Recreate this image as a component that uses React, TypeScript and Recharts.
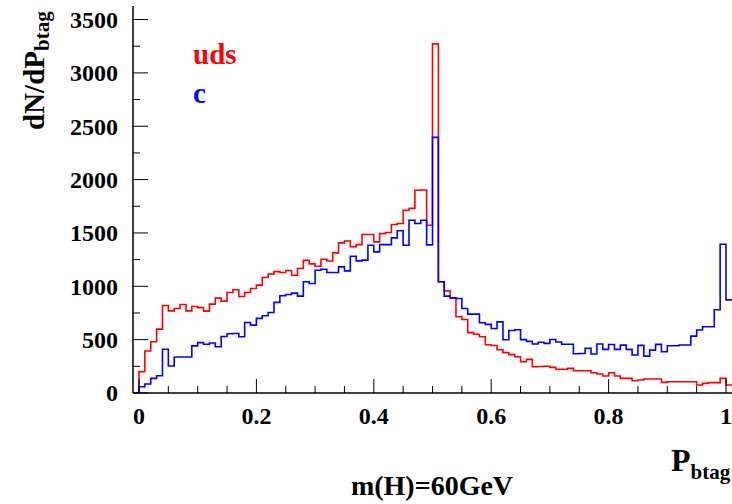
import React from 'react';
import { LineChart, Line, XAxis, YAxis } from 'recharts';

// bin lower edges: -0.01 .. 1.00 (width 0.01), last entry closes the final bin
const binEdges = Array.from({ length: 103 }, (_, i) => Math.round((i - 1)) / 100);

// uds (red), one value per bin starting at -0.01
const udsCounts = [
  0,
  200, 393, 480, 599, 820, 770, 792, 830, 770, 810,
  800, 767, 833, 889, 861, 942, 968, 905, 942, 980,
  1011, 1083, 1114, 1138, 1130, 1148, 1104, 1167, 1243, 1210,
  1188, 1254, 1237, 1313, 1407, 1424, 1372, 1391, 1485, 1485,
  1416, 1494, 1504, 1579, 1588, 1712, 1730, 1900, 1903, 1572,
  3272, 1042, 957, 889, 714, 689, 566, 550, 527, 452,
  445, 405, 378, 360, 340, 293, 315, 246, 248, 251,
  240, 222, 222, 231, 209, 209, 209, 190, 178, 159,
  190, 159, 137, 137, 115, 122, 131, 131, 131, 100,
  106, 106, 106, 106, 106, 75, 90, 97, 97, 137,
  75,
];

// c (blue)
const cCounts = [
  0,
  59, 84, 137, 162, 410, 253, 337, 337, 337, 442,
  472, 457, 468, 434, 530, 556, 558, 527, 661, 636,
  699, 724, 755, 849, 911, 923, 936, 908, 1042, 1026,
  1151, 1160, 1129, 1129, 1182, 1145, 1282, 1238, 1245, 1385,
  1323, 1391, 1391, 1454, 1520, 1385, 1619, 1588, 1619, 1388,
  2396, 1042, 908, 892, 886, 792, 739, 739, 658, 643,
  605, 667, 499, 586, 593, 500, 484, 459, 475, 465,
  502, 478, 457, 457, 368, 370, 418, 365, 459, 409,
  455, 409, 449, 409, 356, 446, 346, 402, 456, 387,
  443, 443, 450, 450, 533, 590, 621, 621, 780, 1394,
  873,
];

const xTicks = [0, 0.05, 0.1, 0.15, 0.2, 0.25, 0.3, 0.35, 0.4, 0.45, 0.5, 0.55, 0.6, 0.65, 0.7, 0.75, 0.8, 0.85, 0.9, 0.95, 1];
const yTicks = [0, 250, 500, 750, 1000, 1250, 1500, 1750, 2000, 2250, 2500, 2750, 3000, 3250, 3500];

const rows = binEdges.map((x, i) => {
  const j = Math.min(i, udsCounts.length - 1);
  return { x, uds: udsCounts[j], c: cCounts[j] };
});

const FONT = '"Liberation Serif", "Times New Roman", serif';
const AXIS_X = 133;
const AXIS_Y = 393;

const XTick = (props: any) => {
  const { x, payload } = props;
  const v = payload.value;
  const major = Math.abs(v * 5 - Math.round(v * 5)) < 1e-6;
  return (
    <g>
      <line x1={x} x2={x} y1={AXIS_Y} y2={AXIS_Y - (major ? 14 : 7)} stroke="#000" strokeWidth={1} />
      {major && (
        <text x={x} y={AXIS_Y + 23} dy="0.35em" textAnchor="middle" fontFamily={FONT} fontWeight="bold" fontSize={24} fill="#000">
          {v === 0 ? '0' : v === 1 ? '1' : v.toFixed(1)}
        </text>
      )}
    </g>
  );
};

const YTick = (props: any) => {
  const { y, payload } = props;
  const v = payload.value;
  const major = v % 500 === 0;
  return (
    <g>
      <line x1={AXIS_X} x2={AXIS_X + (major ? 15 : 7)} y1={y} y2={y} stroke="#000" strokeWidth={1} />
      {major && (
        <text x={118} y={y} dy="0.35em" textAnchor="end" fontFamily={FONT} fontWeight="bold" fontSize={24} fill="#000">
          {v}
        </text>
      )}
    </g>
  );
};

export default function App() {
  return (
    <div style={{ position: 'absolute', left: 0, top: 0, width: 732, height: 504, background: '#fff' }}>
      <LineChart width={732} height={504} data={rows} margin={{ top: 6, right: 0, bottom: 0, left: 0 }}>
        <XAxis
          dataKey="x"
          type="number"
          domain={[-0.0102, 1.0102]}
          ticks={xTicks}
          interval={0}
          height={111}
          allowDataOverflow
          tickLine={false}
          axisLine={{ stroke: '#000', strokeWidth: 1.5 }}
          tick={<XTick />}
        />
        <XAxis
          xAxisId="top"
          dataKey="x"
          type="number"
          orientation="top"
          domain={[-0.0102, 1.0102]}
          height={0}
          tick={false}
          tickLine={false}
          axisLine={{ stroke: '#000', strokeWidth: 1.5 }}
        />
        <YAxis
          type="number"
          domain={[0, 3627]}
          ticks={yTicks}
          interval={0}
          width={133}
          allowDataOverflow
          tickLine={false}
          axisLine={{ stroke: '#000', strokeWidth: 1.5 }}
          tick={<YTick />}
        />
        <Line type="stepAfter" dataKey="uds" stroke="#ff0000" strokeWidth={1.6} dot={false} activeDot={false} isAnimationActive={false} />
        <Line type="stepAfter" dataKey="c" stroke="#0000ff" strokeWidth={1.6} dot={false} activeDot={false} isAnimationActive={false} />
      </LineChart>
      <svg width={732} height={504} style={{ position: 'absolute', left: 0, top: 0, pointerEvents: 'none' }}>
        <text transform="translate(44,130) rotate(-90)" fontFamily={FONT} fontWeight="bold" fontSize={29} fill="#000">
          dN/dP<tspan fontSize={21} dy={5}>btag</tspan>
        </text>
        <text x={193} y={64} fontFamily={FONT} fontWeight="bold" fontSize={29} fill="#ff0000">uds</text>
        <text x={193} y={103} fontFamily={FONT} fontWeight="bold" fontSize={29} fill="#0000ff">c</text>
        <text x={671} y={471} fontFamily={FONT} fontWeight="bold" fontSize={32} fill="#000">
          P<tspan fontSize={21} dy={8}>btag</tspan>
        </text>
        <text x={432} y={495} textAnchor="middle" fontFamily={FONT} fontWeight="bold" fontSize={28} fill="#000">m(H)=60GeV</text>
      </svg>
    </div>
  );
}
